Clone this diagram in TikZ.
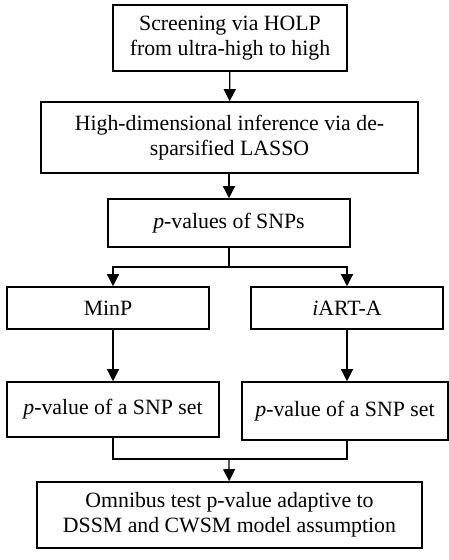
\documentclass[tikz,border=0pt]{standalone}
\usepackage{fontspec}
\setmainfont{Liberation Serif}
\usetikzlibrary{arrows.meta}

\begin{document}
\begin{tikzpicture}[x=1pt,y=-1pt]
		\tikzstyle{BoxStyle}  = [shape=rectangle, draw, line width=1.6pt, inner sep=0pt, align=center, font=\fontsize{21.8}{25}\selectfont]
		\tikzstyle{EdgeStyle} = [line width=1.3pt, -{Triangle[width=12pt,length=12pt]}]
		\useasboundingbox (0,0) rectangle (449,560);
		
		\node[BoxStyle, minimum width=234, minimum height=66] (holp) at (230,38) {Screening via HOLP\\from ultra-high to high};
		\node[BoxStyle, minimum width=377, minimum height=71] (lasso) at (229.5,137.5) {High-dimensional inference via de-\\sparsified LASSO};
		\node[BoxStyle, minimum width=242, minimum height=48] (snp) at (229,223) {\textit{p}-values of SNPs};
		\node[BoxStyle, minimum width=202, minimum height=42] (minp) at (108,308) {MinP};
		\node[BoxStyle, minimum width=192, minimum height=42] (iart) at (347,308) {\textit{i}ART-A};
		\node[BoxStyle, minimum width=212, minimum height=55] (pvl) at (113,409.5) {\textit{p}-value of a SNP set};
		\node[BoxStyle, minimum width=206, minimum height=58] (pvr) at (345,411) {\textit{p}-value of a SNP set};
		\node[BoxStyle, minimum width=385, minimum height=66] (omni) at (229.5,515) {Omnibus test p-value adaptive to\\DSSM and CWSM model assumption};
		\coordinate (split) at (229,267);
		\coordinate (join) at (229,459);
		
		\draw[EdgeStyle] (holp) -- (lasso);
		\draw[EdgeStyle] (lasso.south -| snp) -- (snp);
		\draw[line width=1.3pt] (snp) -- (split);
		\draw[EdgeStyle] (split) -| (minp.north -| pvl); \draw[EdgeStyle] (split) -| (iart);
		\draw[EdgeStyle] (minp.south -| pvl) -- (pvl); \draw[EdgeStyle] (iart) -- (iart |- pvr.north);
		\draw[line width=1.3pt] (pvl) |- (join) -| (iart |- pvr.south);
		\draw[EdgeStyle] (join) -- (omni);
	\end{tikzpicture}
\end{document}
